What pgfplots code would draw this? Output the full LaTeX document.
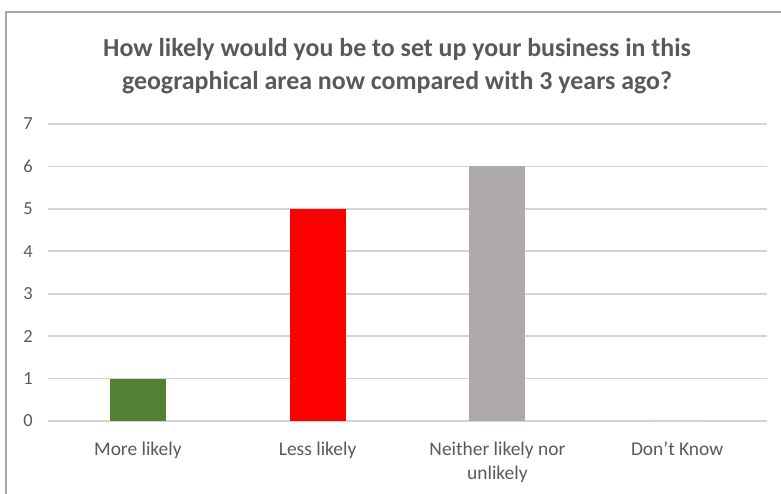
\documentclass[border=0pt]{standalone}
\usepackage{pgfplots}
\pgfplotsset{compat=1.18}
\usepackage{fontspec}
\setmainfont{Carlito}
\definecolor{txt}{HTML}{595959}
\definecolor{frame}{HTML}{A6A6A6}
\definecolor{gridc}{HTML}{D4D4D4}
\definecolor{barG}{HTML}{548235}
\definecolor{barR}{HTML}{FF0000}
\definecolor{barY}{HTML}{AEAAAA}
\begin{document}
\begin{tikzpicture}[x=1bp,y=1bp]
\useasboundingbox (0,0) rectangle (781,494);
\draw[color=frame, line width=2bp] (6,0) -- (6,481.5) -- (781,481.5);
\node[text=txt, font=\fontsize{26}{33}\selectfont\bfseries, align=center] at (397,428)
  {How likely would you be to set up your business in this\\geographical area now compared with 3 years ago?};
\begin{axis}[
  at={(48bp,73bp)}, anchor=south west,
  scale only axis, width=719bp, height=297bp,
  xmin=-0.5, xmax=3.5, ymin=0, ymax=7,
  ytick={0,1,2,3,4,5,6,7},
  xtick={0,1,2,3},
  xticklabels={More likely, Less likely, Neither likely nor\\unlikely, Don\char"27 t Know},
  axis line style={draw=none},
  major tick length=0pt,
  ymajorgrids, grid style={gridc, line width=1.6bp},
  yticklabel style={text=txt, font=\fontsize{18.5}{20}\selectfont, inner sep=0pt, anchor=east, xshift=-15bp},
  xticklabel style={text=txt, font=\fontsize{19.5}{24}\selectfont, align=center, inner sep=0pt, anchor=north, yshift=-21bp},
  /pgf/number format/assume math mode=true,
  ybar, bar width=56bp, bar shift=0pt,
]
\addplot[fill=barG, draw=none] coordinates {(0,1)};
\addplot[fill=barR, draw=none] coordinates {(1,5)};
\addplot[fill=barY, draw=none] coordinates {(2,6)};
\addplot[fill=barY, draw=none] coordinates {(3,0)};
\end{axis}
\end{tikzpicture}
\end{document}
